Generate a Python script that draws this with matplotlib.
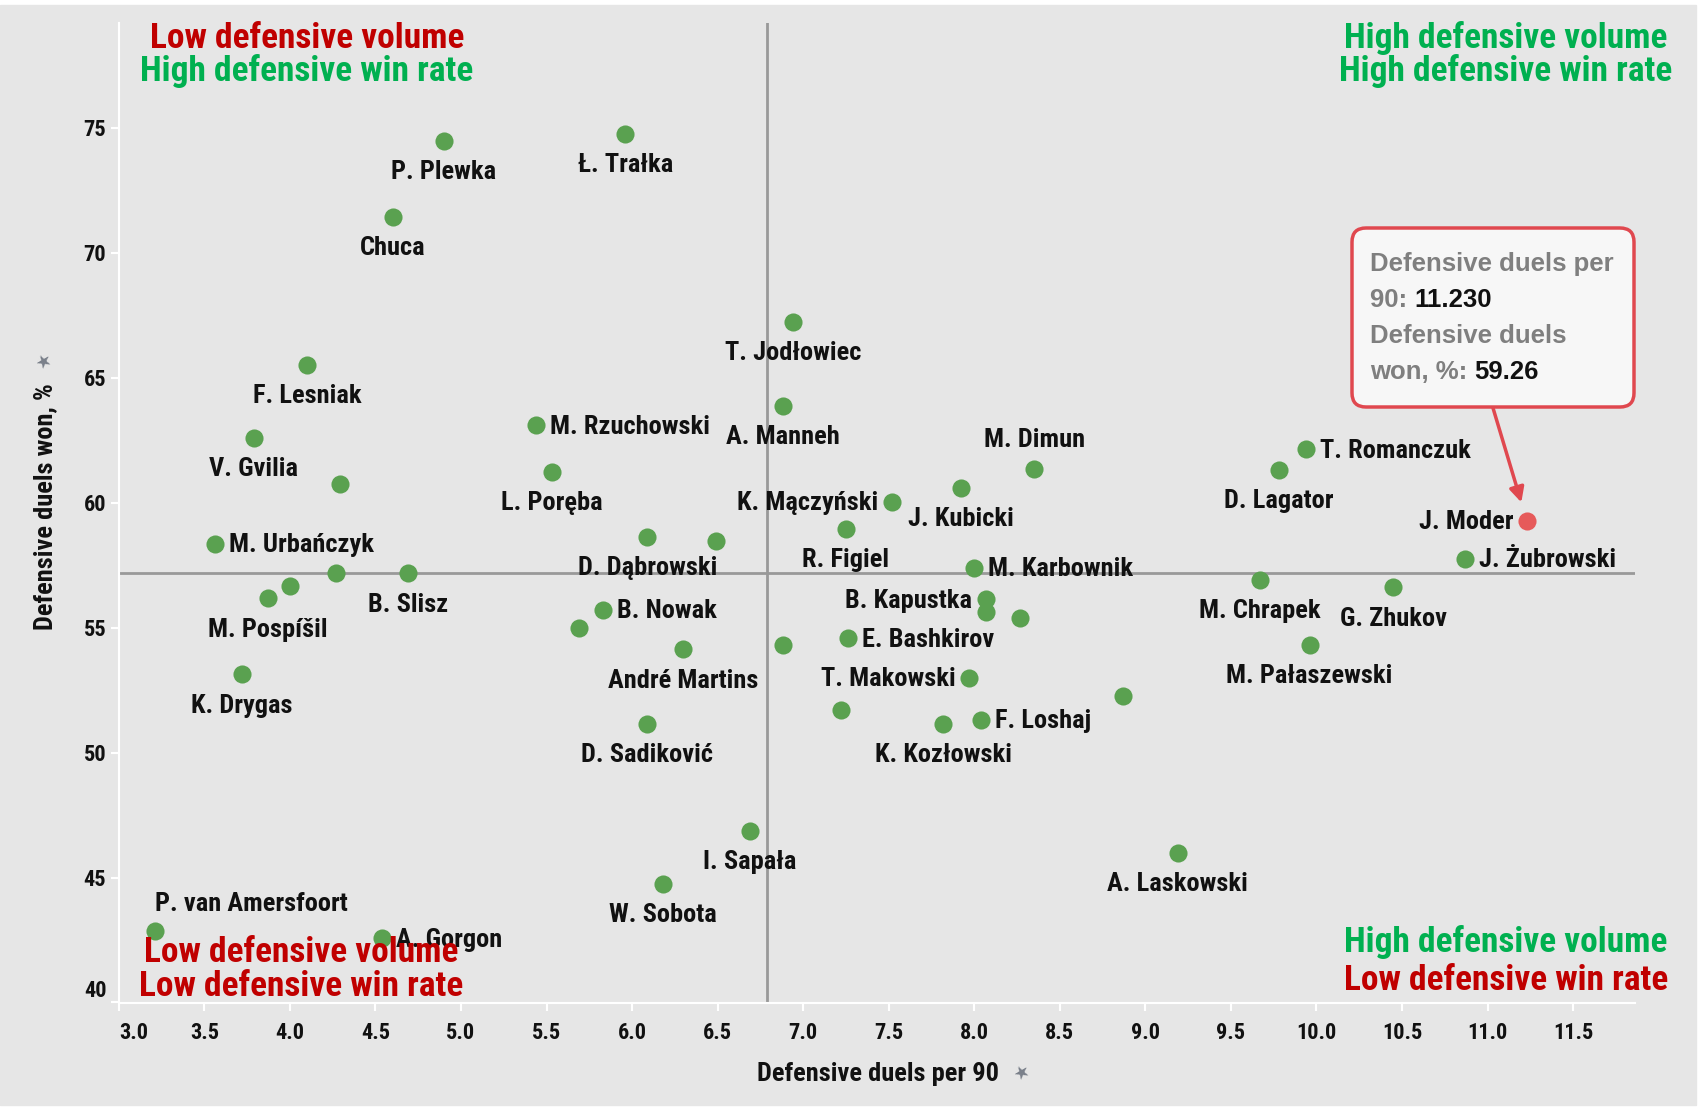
import numpy as np
import matplotlib; matplotlib.use("Agg")
import matplotlib.pyplot as plt
from matplotlib.patches import FancyBboxPatch, Rectangle
from matplotlib.text import Annotation
from matplotlib.transforms import IdentityTransform

W, H = 1702, 1110
BG = "#e6e6e6"
GREEN = "#5aa150"
HIL = "#e65a5a"
RED_TXT = "#c00000"
GRN_TXT = "#00b050"
NARROW = ["Roboto Condensed", "DejaVu Sans"]
ARIAL = ["Liberation Sans", "DejaVu Sans"]

# players: defensive duels per 90, defensive duels won %
names = ["P. Plewka", "Ł. Trałka", "Chuca", "T. Jodłowiec", "F. Lesniak", "A. Manneh",
         "M. Rzuchowski", "V. Gvilia", "", "L. Poręba", "M. Dimun", "J. Kubicki",
         "K. Mączyński", "R. Figiel", "T. Romanczuk", "D. Lagator", "J. Żubrowski",
         "G. Zhukov", "M. Chrapek", "M. Pałaszewski", "M. Urbańczyk", "", "B. Slisz", "",
         "M. Pospíšil", "K. Drygas", "D. Dąbrowski", "", "B. Nowak", "", "André Martins", "",
         "D. Sadiković", "M. Karbownik", "B. Kapustka", "", "", "E. Bashkirov", "T. Makowski",
         "", "K. Kozłowski", "F. Loshaj", "", "I. Sapała", "W. Sobota", "A. Laskowski",
         "P. van Amersfoort", "A. Gorgon"]
duels90 = [4.90, 5.96, 4.60, 6.94, 4.10, 6.88, 5.44, 3.79, 4.29, 5.53, 8.35, 7.92,
           7.52, 7.25, 9.94, 9.78, 10.87, 10.45, 9.67, 9.96, 3.56, 4.27, 4.69, 4.00,
           3.87, 3.72, 6.09, 6.49, 5.83, 5.69, 6.30, 6.88, 6.09, 8.00, 8.07, 8.07,
           8.27, 7.26, 7.97, 7.22, 7.82, 8.04, 8.87, 6.69, 6.18, 9.19, 3.21, 4.54]
won_pct = [74.48, 74.74, 71.43, 67.22, 65.52, 63.87, 63.09, 62.57, 60.74, 61.22, 61.35, 60.57,
           60.04, 58.96, 62.13, 61.30, 57.74, 56.61, 56.91, 54.30, 58.35, 57.17, 57.17, 56.65,
           56.17, 53.13, 58.61, 58.48, 55.70, 55.00, 54.13, 54.30, 51.13, 57.39, 56.13, 55.61,
           55.39, 54.57, 53.00, 51.70, 51.13, 51.30, 52.26, 46.87, 44.74, 46.00, 42.87, 42.57]
# label side: b=below, r=right, l=left, a=above, al=above, left aligned
label_pos = ["b", "b", "b", "b", "b", "b", "r", "b", "", "b", "a", "b",
             "l", "b", "r", "b", "r", "b", "b", "b", "r", "", "b", "",
             "b", "b", "b", "", "r", "", "b", "", "b", "r", "l", "", "", "r", "l",
             "", "b", "r", "", "b", "b", "b", "al", "r"]

hl_name, hl_x, hl_y = "J. Moder", 11.230, 59.26
avg_x, avg_y = 6.786, 57.17

xticks = np.arange(3.0, 11.51, 0.5)
yticks = np.arange(40, 76, 5)

fig = plt.figure(figsize=(W / 100, H / 100), dpi=100)
fig.patch.set_facecolor("white")
fig.add_artist(Rectangle((0, 5 / H), 1696 / W, 1 - 10 / H, transform=fig.transFigure,
                         color=BG, zorder=-10))
ax = fig.add_axes([118.8 / W, 1 - 1002.5 / H, (1634.7 - 118.8) / W, (1002.5 - 22.5) / H])
ax.set_facecolor(BG)
ax.set_xlim(3.0, 11.86)
ax.set_ylim(40, 79.2)

ax.axvline(avg_x, color="#999999", lw=2, zorder=1)
ax.axhline(avg_y, color="#999999", lw=2, zorder=1)

ax.scatter(duels90, won_pct, s=170, color=GREEN, zorder=3, linewidths=0)
ax.scatter([hl_x], [hl_y], s=170, color=HIL, zorder=3, linewidths=0)

off = {"b": (0, -22.5, "center", "center"), "r": (10, -1, "left", "center"),
       "l": (-10, -1, "right", "center"), "a": (0, 21, "center", "center"),
       "al": (0, 19, "left", "center")}
for n, x, y, p in zip(names + [hl_name], duels90 + [hl_x], won_pct + [hl_y], label_pos + ["l"]):
    if not n:
        continue
    dx, dy, ha, va = off[p]
    ax.annotate(n, (x, y), xytext=(dx, dy), textcoords="offset points", ha=ha, va=va,
                fontsize=19, fontweight="bold", family=NARROW, color="#111111", zorder=4)

for s in ["top", "right"]:
    ax.spines[s].set_visible(False)
for s in ["left", "bottom"]:
    ax.spines[s].set_color("white")
    ax.spines[s].set_linewidth(1.5)
ax.set_xticks(xticks)
ax.set_xticklabels([f"{v:.1f}" for v in xticks])
ax.set_yticks(yticks)
ax.set_yticklabels([f"{v:d}" for v in yticks])
ax.tick_params(colors="white", length=6, width=1.5, labelcolor="#111111", labelsize=16)
ax.tick_params(axis="x", pad=8)
ax.tick_params(axis="y", pad=3)
for t in ax.get_xticklabels() + ax.get_yticklabels():
    t.set_family(NARROW)
    t.set_fontweight("bold")
ax.get_xticklabels()[0].set_ha("left")
ax.get_yticklabels()[0].set_va("bottom")


def fpx(x, y):
    return x / W, 1 - y / H


fig.text(*fpx(878, 1074), "Defensive duels per 90", ha="center", va="center",
         fontsize=19, fontweight="bold", family=NARROW, color="#111111")
fig.text(*fpx(1022, 1073), "\u2605", ha="center", va="center", fontsize=13,
         color="#7a808a", rotation=30)
fig.text(*fpx(45, 507), "Defensive duels won, %", ha="center", va="center", rotation=90,
         fontsize=19, fontweight="bold", family=NARROW, color="#111111")
fig.text(*fpx(44, 362), "\u2605", ha="center", va="center", fontsize=13,
         color="#7a808a", rotation=30)

quad = [(307, 38, "Low defensive volume", RED_TXT), (307, 71, "High defensive win rate", GRN_TXT),
        (1506, 38, "High defensive volume", GRN_TXT), (1506, 71, "High defensive win rate", GRN_TXT),
        (301, 953, "Low defensive volume", RED_TXT), (301, 986, "Low defensive win rate", RED_TXT),
        (1506, 942, "High defensive volume", GRN_TXT), (1506, 981, "Low defensive win rate", RED_TXT)]
for qx, qy, txt, c in quad:
    fig.text(*fpx(qx, qy), txt, ha="center", va="center", fontsize=25.5,
             fontweight="bold", family=NARROW, color=c, zorder=5)

# tooltip
box = FancyBboxPatch((1352, H - 407), 282, 179, boxstyle="round,pad=0,rounding_size=14",
                     transform=IdentityTransform(), facecolor="#f7f7f7",
                     edgecolor="#e0484f", lw=2.5, zorder=6)
fig.add_artist(box)
tip = [("Defensive duels per", ""), ("90: ", f"{hl_x:.3f}"),
       ("Defensive duels", ""), ("won, %: ", f"{hl_y:.2f}")]
for i, (lab, val) in enumerate(tip):
    t = fig.text(*fpx(1370, 264 + i * 36), lab, ha="left", va="center", fontsize=18.5,
                 fontweight="bold", family=ARIAL, color="#7f7f7f", zorder=7)
    if val:
        fig.add_artist(Annotation(val, xy=(1, 0.5), xycoords=t, ha="left", va="center",
                                  fontsize=18.5, fontweight="bold", family=ARIAL,
                                  color="#111111", zorder=7))

ax.annotate("", xy=(hl_x, hl_y), xycoords="data", xytext=(1493, H - 408),
            textcoords="figure pixels", annotation_clip=False,
            arrowprops=dict(arrowstyle="-|>", color="#e0484f", lw=2.5, mutation_scale=22,
                            shrinkA=0, shrinkB=14))

fig.savefig("out.png", dpi=100, facecolor=fig.get_facecolor())
